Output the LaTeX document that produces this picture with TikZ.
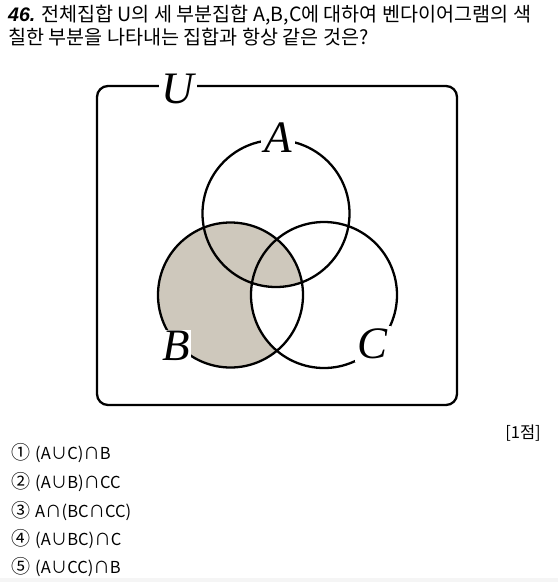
\documentclass[tikz,border=0pt]{standalone}
\usepackage{fontspec}
\setmainfont{Noto Sans CJK KR}
\newfontfamily\kr{Noto Sans CJK KR}
\newfontfamily\numfont{Liberation Sans}
\newfontfamily\lab{Liberation Serif}
\definecolor{vennfill}{RGB}{206,200,188}
\definecolor{stripgray}{RGB}{245,245,245}
\tikzset{
  venn/.style={line width=2.3pt, draw=black},
  setlabel/.style={fill=white, inner sep=3pt, font=\lab\itshape\fontsize{45}{45}\selectfont},
  titletext/.style={anchor=base west, inner sep=0pt, font=\kr\fontsize{19.6}{23}\selectfont},
  opttext/.style={anchor=base west, inner sep=0pt, font=\kr\fontsize{16.5}{20}\selectfont},
}
\newcommand{\circnum}[1]{\makebox[24pt][l]{\raisebox{-0.5pt}{\kr\fontsize{19}{19}\selectfont #1}}}
\begin{document}
\begin{tikzpicture}[x=1pt,y=-1pt]
\useasboundingbox (0,0) rectangle (558,582);
\fill[stripgray] (0,578) rectangle (558,582);
% title
\node[titletext] (t1) at (8,21) {{\numfont\bfseries\itshape 46.} 전체집합 U의 세 부분집합 A,B,C에 대하여 벤다이어그램의 색};
\node[titletext] (t2) at (8,44) {칠한 부분을 나타내는 집합과 항상 같은 것은?};
% shading: B cap (A cup C^c)
\coordinate (ca) at (276,213.5);
\coordinate (cb) at (230.5,295);
\coordinate (cc) at (324,295);
\fill[vennfill] (cb) circle[radius=72.5pt];
\begin{scope}
  \clip (cb) circle[radius=72.5pt];
  \fill[white] (cc) circle[radius=73pt];
  \clip (ca) circle[radius=73.5pt];
  \fill[vennfill] (cb) circle[radius=72.5pt];
\end{scope}
% universe
\draw[venn, rounded corners=11pt] (97,86) rectangle (457,405);
\draw[venn] (ca) circle[radius=73.5pt];
\draw[venn] (cb) circle[radius=72.5pt];
\draw[venn] (cc) circle[radius=73pt];
% labels
\node[setlabel] (U) at (178,89) {U};
\node[setlabel] (A) at (278,138) {A};
\node[setlabel, inner sep=1.5pt] (B) at (176,346) {B};
\node[setlabel] (C) at (373,344) {C};
% score and options
\node[opttext, anchor=base east] (score) at (541,438) {[1점]};
\node[opttext] (o1) at (11,459) {\circnum{①}(A∪C)∩B};
\node[opttext] (o2) at (11,488) {\circnum{②}(A∪B)∩CC};
\node[opttext] (o3) at (11,517) {\circnum{③}A∩(BC∩CC)};
\node[opttext] (o4) at (11,545) {\circnum{④}(A∪BC)∩C};
\node[opttext] (o5) at (11,573) {\circnum{⑤}(A∪CC)∩B};
\end{tikzpicture}
\end{document}
